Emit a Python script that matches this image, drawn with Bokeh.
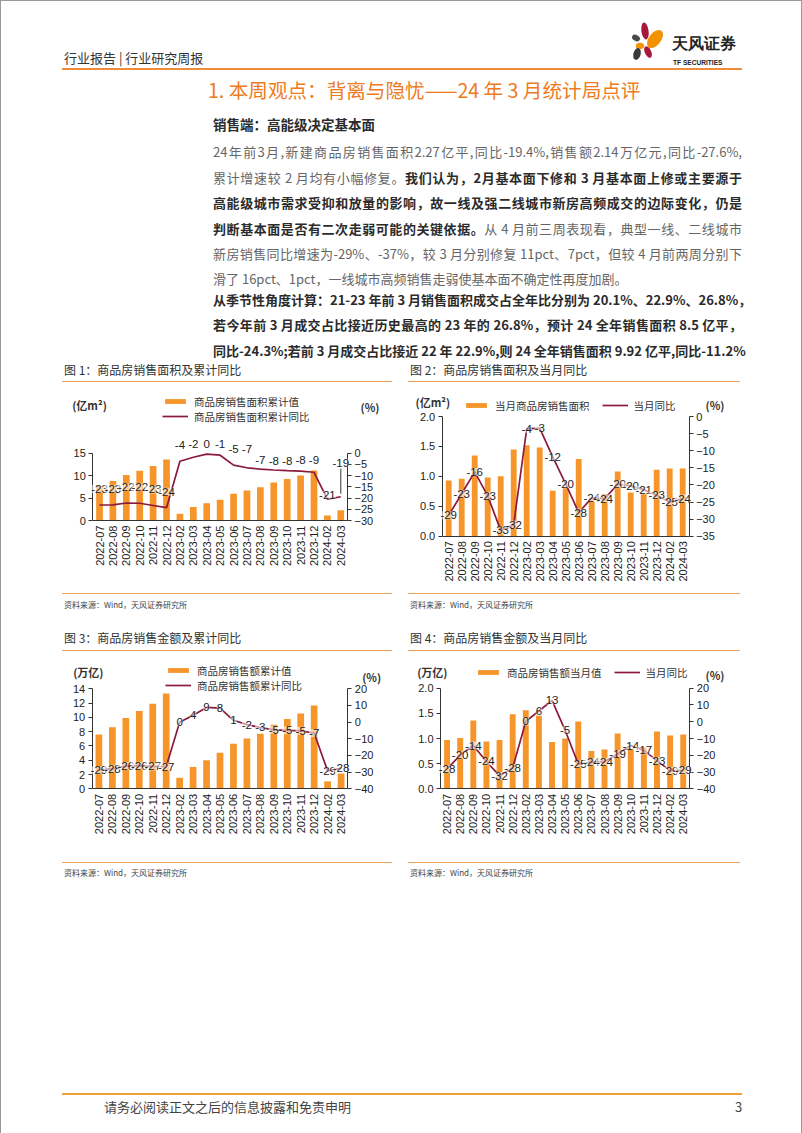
import math
from bokeh.plotting import figure
from bokeh.models import (Range1d, LinearAxis, FixedTicker, ColumnDataSource,
                          LabelSet, Label, Legend, LegendItem, Div)
from bokeh.layouts import column, row
from bokeh.embed import file_html
from bokeh.resources import INLINE
from bokeh.core.properties import value

# ---------------- data ----------------
months = ["2022-07", "2022-08", "2022-09", "2022-10", "2022-11", "2022-12",
          "2023-02", "2023-03", "2023-04", "2023-05", "2023-06", "2023-07",
          "2023-08", "2023-09", "2023-10", "2023-11", "2023-12", "2024-02", "2024-03"]

# Fig 1: cumulative sales area (亿m²) and cumulative YoY (%)
area_cum = [7.82, 8.78, 10.14, 11.11, 12.15, 13.58, 1.51, 2.99, 3.85, 4.63, 5.95, 6.66,
            7.39, 8.48, 9.26, 10.03, 11.17, 1.13, 2.27]
area_cum_yoy = [-23.1, -23.0, -22.2, -22.3, -23.3, -24.3, -3.6, -1.8, -0.4, -0.9, -5.3, -6.5,
                -7.1, -7.5, -7.8, -8.0, -8.5, -20.5, -19.4]

# Fig 2: monthly sales area (亿m²) and monthly YoY (%)
area_mon = [0.93, 0.96, 1.35, 0.98, 1.00, 1.45, 1.52, 1.48, 0.76, 0.80, 1.29, 0.64,
            0.70, 1.08, 0.73, 0.70, 1.11, 1.13, 1.13]
area_mon_yoy = [-28.9, -22.6, -16.2, -23.2, -33.3, -31.6, -3.6, -3.4, -11.8, -19.7, -28.1, -23.8,
                -24.0, -19.8, -20.3, -21.4, -23.0, -25.0, -24.0]

# Fig 3: cumulative sales amount (万亿) and cumulative YoY (%)
amt_cum = [7.60, 8.60, 9.90, 10.90, 11.90, 13.33, 1.55, 3.05, 3.98, 5.05, 6.31, 7.05,
           7.70, 8.97, 9.76, 10.55, 11.66, 1.04, 2.14]
amt_cum_yoy = [-28.8, -27.9, -26.3, -26.1, -26.6, -26.7, -0.1, 4.1, 8.8, 8.4, 1.1, -1.5,
               -3.2, -4.6, -4.9, -5.2, -6.5, -29.3, -27.6]

# Fig 4: monthly sales amount (万亿) and monthly YoY (%)
amt_mon = [0.97, 1.01, 1.36, 0.94, 0.97, 1.48, 1.56, 1.45, 0.93, 1.00, 1.34, 0.75,
           0.78, 1.10, 0.80, 0.82, 1.14, 1.06, 1.08]
amt_mon_yoy = [-28.2, -19.9, -14.2, -23.7, -32.3, -27.6, 0.2, 6.4, 12.7, -5.1, -25.3, -24.1,
               -23.8, -19.2, -14.2, -17.1, -23.2, -29.3, -29.0]

ticks_area_cum = [0, 5, 10, 15]
ticks_area_cum_r = [-30, -25, -20, -15, -10, -5, 0]
ticks_mon = [0.0, 0.5, 1.0, 1.5, 2.0]
ticks_area_mon_r = [-35, -30, -25, -20, -15, -10, -5, 0]
ticks_amt_cum = [0, 2, 4, 6, 8, 10, 12, 14]
ticks_amt_r = [-40, -30, -20, -10, 0, 10, 20]

# ---------------- styles ----------------
BAR = "#F5952A"
LINE = "#8B1A3D"
RULE = "#F0A35E"
EDGE = "#9a9a9a"
CJK = "Noto Sans CJK SC"
LAT = "Liberation Sans"

# label lift above the line point (px), fig 1 only
fig1_label_lift = [16, 16, 16, 16, 16, 16, 16, 13, 10, 11, 16, 19, 9, 9, 10, 11, 12, 4, 34]


def fmt_label(v):
    r = int(math.floor(abs(v) + 0.5))
    if r == 0:
        return "0"
    return ("-" if v < 0 else "") + str(r)


def style_axis(ax):
    ax.axis_line_color = "#333333"
    ax.axis_line_width = 1
    ax.major_tick_line_color = "#333333"
    ax.major_tick_in = 0
    ax.major_tick_out = 4
    ax.minor_tick_line_color = None
    ax.major_label_text_font = LAT
    ax.major_label_text_font_size = "11px"
    ax.major_label_text_color = "#222222"
    ax.major_label_standoff = 3


def build_chart(W, H, L, R, Y0, ytop, lticks, rticks, bars, yoy, bar_w, lift, leader,
                bar_name, line_name, orient, leg_left, leg_bottom, leg_spacing,
                unit_l, unit_l_xy, unit_r_xy, lfmt):
    n = len(months)
    cat_px = (R - L) / n
    k_l = (Y0 - ytop) / (lticks[-1] - lticks[0])
    k_r = (Y0 - ytop) / (rticks[-1] - rticks[0])
    p = figure(width=W, height=H,
               x_range=Range1d(-L / cat_px, (W - L) / cat_px),
               y_range=Range1d(lticks[0] - (H - Y0) / k_l, lticks[0] + Y0 / k_l),
               output_backend="svg", toolbar_location=None,
               min_border=0, min_border_left=0, min_border_right=0,
               min_border_top=0, min_border_bottom=0)
    p.extra_y_ranges = {"r": Range1d(rticks[0] - (H - Y0) / k_r, rticks[0] + Y0 / k_r)}
    p.outline_line_color = None
    p.xgrid.visible = False
    p.ygrid.visible = False
    p.background_fill_color = "white"
    p.border_fill_color = "white"

    xs = [i + 0.5 for i in range(n)]
    rb = p.vbar(x=xs, top=bars, width=bar_w, fill_color=BAR, line_color=None)
    rl = p.line(x=xs, y=yoy, y_range_name="r", line_color=LINE, line_width=1.7)

    lifts = lift if isinstance(lift, list) else [lift] * n
    ly = [v + d / k_r for v, d in zip(yoy, lifts)]
    if leader:
        p.segment(x0=[xs[-1]], y0=[yoy[-1] + 3 / k_r], x1=[xs[-1]], y1=[yoy[-1] + 28 / k_r],
                  y_range_name="r", line_color="#333333", line_width=1)
    src = ColumnDataSource(dict(x=xs, y=ly, t=[fmt_label(v) for v in yoy]))
    ls = LabelSet(x="x", y="y", text="t", source=src, y_range_name="r",
                  text_align="center", text_baseline="middle",
                  text_font=value(LAT), text_font_size=value("11.5px"), text_color="#222222",
                  background_fill_color="white", background_fill_alpha=0.55)
    p.add_layout(ls)

    yl = p.yaxis[0]
    yl.ticker = FixedTicker(ticks=lticks)
    yl.bounds = (lticks[0], lticks[-1])
    yl.fixed_location = 0
    yl.major_label_overrides = {t: lfmt(t) for t in lticks}
    style_axis(yl)

    yr = LinearAxis(y_range_name="r", ticker=FixedTicker(ticks=rticks),
                    bounds=(rticks[0], rticks[-1]), fixed_location=n)
    style_axis(yr)
    p.add_layout(yr, "right")

    xa = p.xaxis[0]
    style_axis(xa)
    xa.ticker = FixedTicker(ticks=xs)
    xa.major_label_overrides = {x: m for x, m in zip(xs, months)}
    xa.bounds = (0, n)
    xa.fixed_location = lticks[0]
    xa.major_tick_out = 0
    xa.major_label_orientation = math.pi / 2
    xa.major_label_standoff = 5

    legend = Legend(items=[LegendItem(label=bar_name, renderers=[rb]),
                           LegendItem(label=line_name, renderers=[rl])],
                    orientation=orient, location=(leg_left, H - leg_bottom),
                    glyph_width=26, glyph_height=6, label_standoff=6, spacing=leg_spacing,
                    padding=0, margin=0, border_line_color=None, background_fill_alpha=0,
                    label_text_font=CJK, label_text_font_size="10.5px",
                    label_text_color="#333333", label_height=13)
    p.add_layout(legend)

    def to_data(px, py):
        return (px - L) / cat_px, lticks[0] + (Y0 - py) / k_l

    ux, uy = to_data(*unit_l_xy)
    p.add_layout(Label(x=ux, y=uy, text=unit_l, text_font=CJK, text_font_size="11px",
                       text_font_style="bold", text_color="#333333",
                       text_align="left", text_baseline="middle"))
    rx, ry = to_data(*unit_r_xy)
    p.add_layout(Label(x=rx, y=ry, text="(%)", text_font=CJK, text_font_size="11px",
                       text_font_style="bold", text_color="#333333",
                       text_align="left", text_baseline="middle"))
    return p


int_fmt = lambda t: str(int(t))
dec_fmt = lambda t: "%.1f" % t

fig1 = build_chart(330, 211, 30.3, 285, 138, 70.7, ticks_area_cum, ticks_area_cum_r,
                   area_cum, area_cum_yoy, 0.5, fig1_label_lift, True,
                   "商品房销售面积累计值", "商品房销售面积累计同比", "vertical", 100, 41.5, -2,
                   "(亿m²)", (9.7, 22), (298, 24.7), int_fmt)
fig2 = build_chart(332, 211, 33.7, 280.7, 153.7, 34, ticks_mon, ticks_area_mon_r,
                   area_mon, area_mon_yoy, 0.45, 0, False,
                   "当月商品房销售面积", "当月同比", "horizontal", 55, 30.5, 12,
                   "(亿m²)", (7, 19), (297, 22), dec_fmt)
fig3 = build_chart(330, 211, 29.7, 285.3, 137.3, 37.3, ticks_amt_cum, ticks_amt_r,
                   amt_cum, amt_cum_yoy, 0.5, 0, False,
                   "商品房销售额累计值", "商品房销售额累计同比", "vertical", 103, 41.5, -1,
                   "(万亿)", (10.7, 20.7), (299.7, 25.7), int_fmt)
fig4 = build_chart(332, 211, 32, 281.3, 137.3, 36.7, ticks_mon, ticks_amt_r,
                   amt_mon, amt_mon_yoy, 0.45, 0, False,
                   "商品房销售额当月值", "当月同比", "horizontal", 67, 28.5, 12,
                   "(万亿)", (8.7, 20.7), (297, 23), dec_fmt)

# ---------------- text blocks ----------------


def txt(left, cy, content, size, color="#333333", weight="normal", lh=None, width=None,
        justify=False, family=CJK):
    lh = lh or int(size * 1.4)
    top = cy - lh / 2
    w = f"width:{width}px;" if width else ""
    j = "text-align:justify;text-align-last:justify;" if justify else ""
    return (f'<div style="position:absolute;left:{left}px;top:{top}px;{w}height:{lh}px;'
            f'line-height:{lh}px;font-size:{size}px;color:{color};font-weight:{weight};'
            f'font-family:\'{family}\';white-space:nowrap;{j}">{content}</div>')


def rule(left, top, width, h, color):
    return (f'<div style="position:absolute;left:{left}px;top:{top}px;width:{width}px;'
            f'height:{h}px;background:{color};"></div>')


logo = (
    '<svg style="position:absolute;left:620px;top:20px" width="130" height="55" '
    'xmlns="http://www.w3.org/2000/svg">'
    '<ellipse cx="25" cy="11" rx="3.6" ry="8.5" fill="#A8173C" transform="rotate(-8 25 11)"/>'
    '<ellipse cx="35" cy="19" rx="6" ry="10.5" fill="#F39200" transform="rotate(38 35 19)"/>'
    '<ellipse cx="16" cy="18" rx="4.2" ry="3" fill="#4A4A4A" transform="rotate(30 16 18)"/>'
    '<ellipse cx="20" cy="26" rx="4.2" ry="3.2" fill="#F39200" transform="rotate(-10 20 26)"/>'
    '<ellipse cx="17" cy="34" rx="3.6" ry="6" fill="#3A3A3A" transform="rotate(15 17 34)"/>'
    '<ellipse cx="28" cy="32" rx="3.2" ry="6.2" fill="#A8173C" transform="rotate(-25 28 32)"/>'
    f'<text x="52" y="29" font-family="{CJK}" font-size="15.5" font-weight="bold" fill="#222">天风证券</text>'
    f'<text x="53" y="45" font-family="{LAT}" font-size="6.6" font-weight="bold" fill="#222">TF SECURITIES</text>'
    '</svg>'
)

G = "#666666"
K = "#2b2b2b"
b = lambda s: f'<b style="color:{K}">{s}</b>'

para1 = [
    "24年前3月,新建商品房销售面积2.27亿平,同比-19.4%,销售额2.14万亿元,同比-27.6%,",
    "累计增速较 2 月均有小幅修复。" + b("我们认为，2月基本面下修和 3 月基本面上修或主要源于"),
    b("高能级城市需求受抑和放量的影响，故一线及强二线城市新房高频成交的边际变化，仍是"),
    b("判断基本面是否有二次走弱可能的关键依据。") + "从 4 月前三周表现看，典型一线、二线城市",
    "新房销售同比增速为-29%、-37%，较 3 月分别修复 11pct、7pct，但较 4 月前两周分别下",
    "滑了 16pct、1pct，一线城市高频销售走弱使基本面不确定性再度加剧。",
]
para1_y = [152, 178, 203, 229, 254, 279]
para2 = [
    "从季节性角度计算：21-23 年前 3 月销售面积成交占全年比分别为 20.1%、22.9%、26.8%，",
    "若今年前 3 月成交占比接近历史最高的 23 年的 26.8%，预计 24 全年销售面积 8.5 亿平，",
    "同比-24.3%;若前 3 月成交占比接近 22 年 22.9%,则 24 全年销售面积 9.92 亿平,同比-11.2%",
]
para2_y = [300, 325, 351]

h1 = [rule(0, 0, 802, 1, EDGE),
      rule(62, 68, 680, 2, "#EE8C3A"), logo,
      txt(64, 58, "行业报告 | 行业研究周报", 13, "#333333"),
      txt(208, 90, "1. 本周观点：背离与隐忧——24 年 3 月统计局点评", 19.6, "#EE7B1E", lh=26),
      txt(213, 124, "销售端：高能级决定基本面", 13.5, K, "bold")]
for i, (s, y) in enumerate(zip(para1, para1_y)):
    h1.append(txt(213, y, s, 13, G, lh=18, width=529, justify=(i < len(para1) - 1)))
for i, (s, y) in enumerate(zip(para2, para2_y)):
    h1.append(txt(213, y, s, 13, K, "bold", lh=18, width=529, justify=True))
h1 += [txt(64, 370, "图 1：商品房销售面积及累计同比", 12, "#333333"),
       txt(410, 370, "图 2：商品房销售面积及当月同比", 12, "#333333"),
       rule(62, 381, 330, 1, RULE), rule(408, 381, 332, 1, RULE)]

src_txt = "资料来源：Wind，天风证券研究所"
h2 = [rule(62, 0, 330, 1, RULE), rule(408, 0, 332, 1, RULE),
      txt(64, 11, src_txt, 8, "#444444"), txt(410, 11, src_txt, 8, "#444444"),
      txt(64, 45, "图 3：商品房销售金额及累计同比", 12, "#333333"),
      txt(410, 45, "图 4：商品房销售金额及当月同比", 12, "#333333"),
      rule(62, 57, 330, 1, RULE), rule(408, 57, 332, 1, RULE)]

h3 = [rule(62, 0, 330, 1, RULE), rule(408, 0, 332, 1, RULE),
      txt(64, 10, src_txt, 8, "#444444"), txt(410, 10, src_txt, 8, "#444444"),
      rule(62, 231, 680, 2, "#EDA03C"),
      txt(104, 245, "请务必阅读正文之后的信息披露和免责申明", 13, "#444444"),
      txt(735, 245, "3", 13, "#444444")]


def block(parts, w, h, edges=(True, True)):
    extra = ""
    if edges[0]:
        extra += rule(0, 0, 1, h, EDGE)
    if edges[1]:
        extra += rule(w - 1, 0, 1, h, EDGE)
    html = (f'<div style="position:relative;width:{w}px;height:{h}px;margin:0;padding:0;'
            f'background:white;overflow:hidden">' + "".join(parts) + extra + '</div>')
    return Div(text=html, width=w, height=h, margin=0)


div1 = block(h1, 802, 382)
div2 = block(h2, 802, 58)
div3 = block(h3, 802, 271)


def chart_row(fa, fb):
    return row(block([], 62, 211, (True, False)), fa, block([], 16, 211, (False, False)), fb,
               block([], 62, 211, (False, True)), spacing=0)


page = column(div1, chart_row(fig1, fig2), div2, chart_row(fig3, fig4), div3, spacing=0)

open("out.html", "w").write(file_html(page, INLINE))
